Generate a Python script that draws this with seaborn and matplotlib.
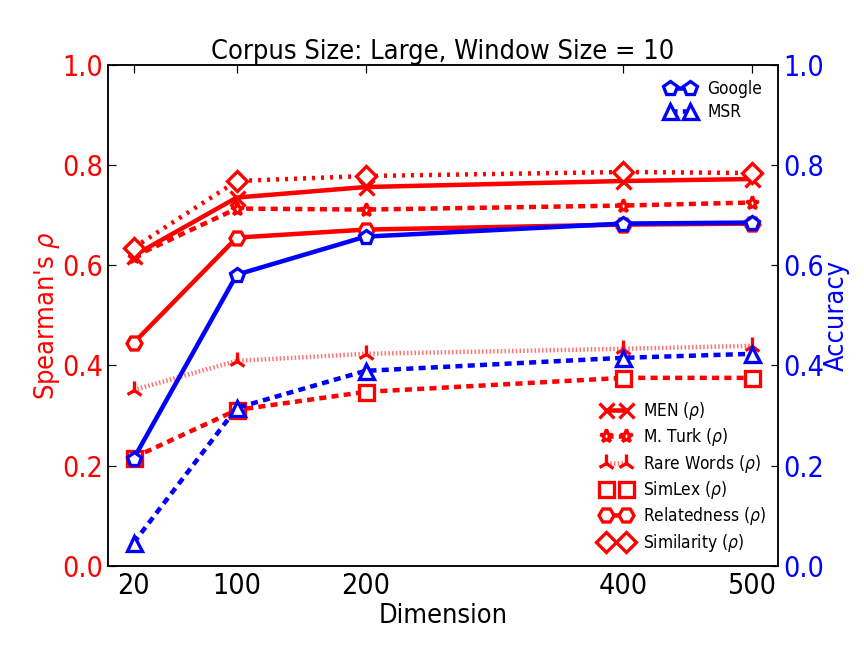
import matplotlib
matplotlib.use("Agg")
import matplotlib.pyplot as plt
import seaborn as sns
import pandas as pd

dims = [20, 100, 200, 400, 500]
men = [0.619, 0.735, 0.756, 0.768, 0.772]
mturk = [0.617, 0.713, 0.711, 0.719, 0.725]
rare_words = [0.351, 0.409, 0.423, 0.433, 0.439]
simlex = [0.216, 0.311, 0.347, 0.375, 0.375]
relatedness = [0.445, 0.655, 0.671, 0.681, 0.683]
similarity = [0.635, 0.768, 0.778, 0.786, 0.784]
google = [0.214, 0.581, 0.657, 0.683, 0.685]
msr = [0.046, 0.315, 0.389, 0.415, 0.423]

sns.set_style("white")
plt.rcParams['font.family'] = ['DejaVu Sans']
plt.rcParams['font.stretch'] = 'condensed'
plt.rcParams['mathtext.fontset'] = 'dejavusans'
plt.rcParams['text.color'] = 'black'
plt.rcParams['axes.labelcolor'] = 'black'
plt.rcParams['xtick.color'] = 'black'
plt.rcParams['ytick.color'] = 'black'
plt.rcParams['lines.scale_dashes'] = False

fig = plt.figure(figsize=(8, 6), dpi=108)
ax = fig.add_axes([0.125, 0.127, 0.775, 0.773])
ax2 = ax.twinx()

lw = 3
ms = 10
mew = 2.2
DASH = (0, (4.7, 3.5))
DOT = (0, (2, 4))
FINEDOT = (0, (1, 1.5))

left_series = [
    ("MEN ($\\rho$)", men, 'x', '-', 'red'),
    ("M. Turk ($\\rho$)", mturk, '*', DASH, 'red'),
    ("Rare Words ($\\rho$)", rare_words, '2', FINEDOT, (1.0, 0.0, 0.0, 0.55)),
    ("SimLex ($\\rho$)", simlex, 's', DASH, 'red'),
    ("Relatedness ($\\rho$)", relatedness, 'H', '-', 'red'),
    ("Similarity ($\\rho$)", similarity, 'D', DOT, 'red'),
]
for name, vals, mk, ls, lcol in left_series:
    df = pd.DataFrame({"Dimension": dims, "v": vals})
    msz = ms
    if mk == 'D':
        msz = 9
    if mk == '2':
        msz = 12
    if mk == '*':
        msz = 9
    sns.lineplot(data=df, x="Dimension", y="v", ax=ax, color='red', linestyle=ls,
                 linewidth=lw, marker=mk, markersize=msz, markerfacecolor='white',
                 markeredgecolor='red', markeredgewidth=mew, label=name,
                 legend=False, dash_capstyle='butt')
    ax.lines[-1].set_color(lcol)
    ax.lines[-1].set_markeredgecolor('red')

right_series = [
    ("Google", google, 'p', '-'),
    ("MSR", msr, '^', DASH),
]
for name, vals, mk, ls in right_series:
    df = pd.DataFrame({"Dimension": dims, "v": vals})
    sns.lineplot(data=df, x="Dimension", y="v", ax=ax2, color='blue', linestyle=ls,
                 linewidth=lw, marker=mk, markersize=ms, markerfacecolor='white',
                 markeredgecolor='blue', markeredgewidth=mew, label=name, legend=False,
                 dash_capstyle='butt')

ax.set_xlim(0, 520)
ax.set_ylim(0, 1)
ax2.set_ylim(0, 1)
ax.set_xticks(dims)
ax.set_xticklabels([str(d) for d in dims])
ax.set_yticks([0.0, 0.2, 0.4, 0.6, 0.8, 1.0])
ax2.set_yticks([0.0, 0.2, 0.4, 0.6, 0.8, 1.0])

ax.tick_params(axis='x', labelsize=19, direction='in', top=True, length=5, colors='black', pad=4)
ax.tick_params(axis='y', labelsize=19, direction='in', length=5, labelcolor='red')
ax2.tick_params(axis='y', labelsize=19, direction='in', length=5, labelcolor='blue')

ax.set_xlabel("Dimension", fontsize=18, labelpad=2)
ax.set_ylabel("Spearman's $\\rho$", fontsize=18, color='red', labelpad=0)
ax2.set_ylabel("Accuracy", fontsize=18, color='blue', labelpad=0)
ax.set_title("Corpus Size: Large, Window Size = 10", fontsize=18, pad=4)

for a in (ax, ax2):
    for s in a.spines.values():
        s.set_color('black')
        s.set_linewidth(1)

ax.legend(loc='lower right', frameon=False, fontsize=11.5, numpoints=2,
          handlelength=1.76, handletextpad=0.7, labelspacing=0.25, borderaxespad=0.3)
ax2.legend(loc='upper right', frameon=False, fontsize=11.5, numpoints=2,
           handlelength=1.76, handletextpad=0.7, labelspacing=0.25)

fig.savefig("out.png", dpi=108)
